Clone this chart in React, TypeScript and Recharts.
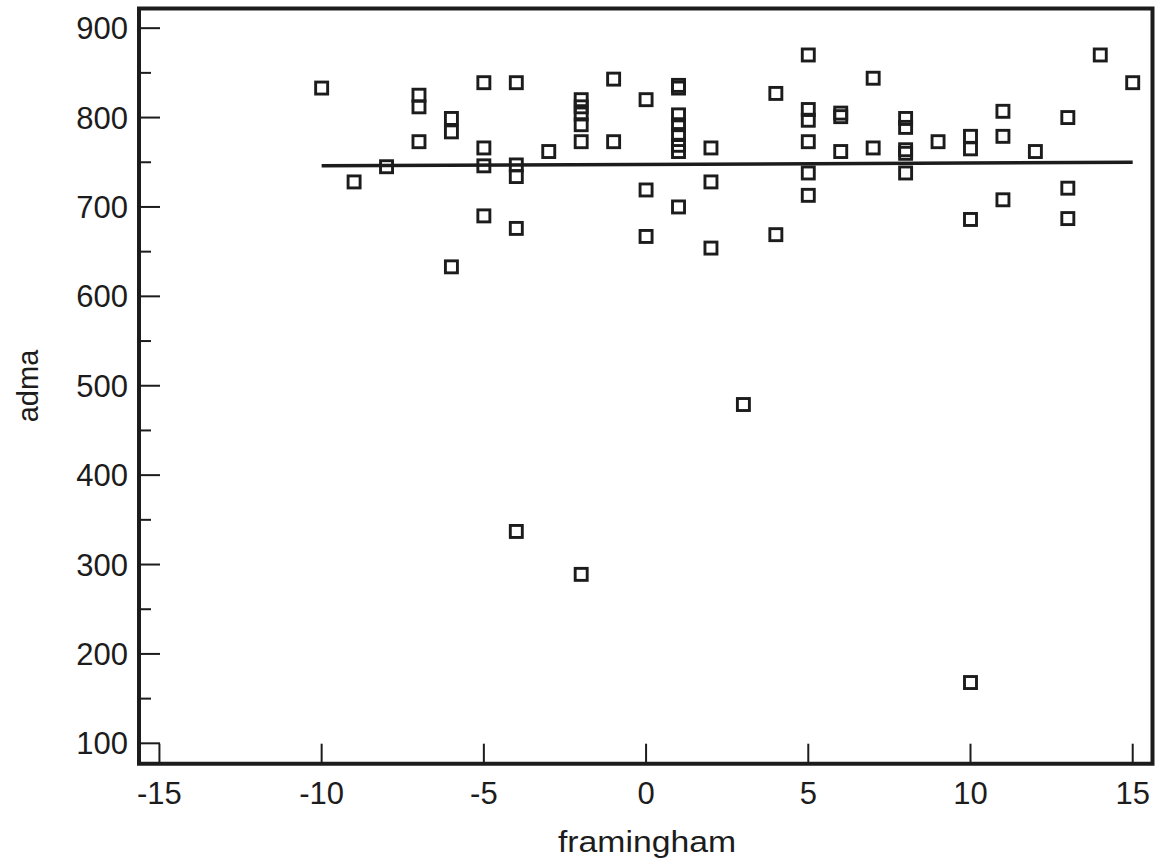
import React from 'react';
import { ScatterChart, Scatter, XAxis, YAxis, ReferenceArea } from 'recharts';

// framingham (x) values for each observation
const framingham = [
  -10,
  -9,
  -8,
  -7, -7, -7,
  -6, -6, -6,
  -5, -5, -5, -5,
  -4, -4, -4, -4, -4,
  -3,
  -2, -2, -2, -2, -2, -2,
  -1, -1,
  0, 0, 0,
  1, 1, 1, 1, 1, 1, 1, 1,
  2, 2, 2,
  3,
  4, 4,
  5, 5, 5, 5, 5, 5,
  6, 6, 6,
  7, 7,
  8, 8, 8, 8, 8,
  9,
  10, 10, 10, 10,
  11, 11, 11,
  12,
  13, 13, 13,
  14,
  15,
];

// adma (y) values, same order
const adma = [
  833,
  728,
  745,
  825, 812, 773,
  799, 784, 633,
  839, 766, 746, 690,
  839, 747, 734, 676, 337,
  762,
  820, 812, 804, 792, 773, 289,
  843, 773,
  820, 719, 667,
  836, 833, 803, 792, 781, 769, 762, 700,
  766, 728, 654,
  479,
  827, 669,
  870, 809, 797, 773, 738, 713,
  805, 801, 762,
  844, 766,
  799, 789, 764, 760, 738,
  773,
  779, 765, 686, 168,
  807, 779, 708,
  762,
  800, 721, 687,
  870,
  839,
];

// fitted regression line
const fitX = [-10, 15];
const fitY = [746, 750];

const xTicks = [-15, -10, -5, 0, 5, 10, 15];
const yTicks = [100, 150, 200, 250, 300, 350, 400, 450, 500, 550, 600, 650, 700, 750, 800, 850, 900];

const X_DOMAIN: [number, number] = [-15.63, 15.61];
const Y_DOMAIN: [number, number] = [77.2, 922];

const points = framingham.map((x, i) => ({ x, y: adma[i] }));
const fitLine = fitX.map((x, i) => ({ x, y: fitY[i] }));

const INK = '#1c1c1c';
const FONT = '"Liberation Sans", Arial, sans-serif';

const SquareShape = (props: any) => {
  const { cx, cy } = props;
  if (cx == null || cy == null) return <g />;
  return (
    <rect x={cx - 6} y={cy - 6} width={12} height={12} fill="none" stroke={INK} strokeWidth={2.9} />
  );
};

const NoShape = () => <g />;

const XTick = (props: any) => {
  const { x, y, payload } = props;
  return (
    <g>
      <line x1={x} x2={x} y1={y} y2={y - 20} stroke={INK} strokeWidth={2} />
      <text x={x} y={y + 40} textAnchor="middle" fontSize={31} fontFamily={FONT} fill={INK}>
        {payload.value}
      </text>
    </g>
  );
};

const YTick = (props: any) => {
  const { x, y, payload } = props;
  const major = payload.value % 100 === 0;
  return (
    <g>
      <line x1={x} x2={x + (major ? 21 : 12)} y1={y} y2={y} stroke={INK} strokeWidth={2} />
      {major && (
        <text x={x - 11} y={y + 11} textAnchor="end" fontSize={31} fontFamily={FONT} fill={INK}>
          {payload.value}
        </text>
      )}
    </g>
  );
};

const XTitle = () => (
  <text
    x={647}
    y={852}
    textAnchor="middle"
    fontSize={30}
    fontFamily={FONT}
    fill={INK}
    textLength={178}
    lengthAdjust="spacingAndGlyphs"
  >
    framingham
  </text>
);

const YTitle = () => (
  <text
    x={30}
    y={386}
    textAnchor="middle"
    fontSize={29}
    fontFamily={FONT}
    fill={INK}
    transform="rotate(-90 30 386)"
    dominantBaseline="middle"
  >
    adma
  </text>
);

export default function App() {
  return (
    <div style={{ position: 'absolute', left: 0, top: 0, background: '#fff' }}>
      <ScatterChart
        width={1167}
        height={864}
        margin={{ top: 8.5, right: 14.5, left: 0, bottom: 0 }}
      >
        <XAxis
          type="number"
          dataKey="x"
          domain={X_DOMAIN}
          ticks={xTicks}
          allowDataOverflow
          axisLine={false}
          tickLine={false}
          tickSize={0}
          tickMargin={0}
          tick={<XTick />}
          height={100.3}
          interval={0}
          label={<XTitle />}
        />
        <YAxis
          type="number"
          dataKey="y"
          domain={Y_DOMAIN}
          ticks={yTicks}
          allowDataOverflow
          axisLine={false}
          tickLine={false}
          tickSize={0}
          tickMargin={0}
          tick={<YTick />}
          width={139}
          interval={0}
          label={<YTitle />}
        />
        <ReferenceArea
          x1={X_DOMAIN[0]}
          x2={X_DOMAIN[1]}
          y1={Y_DOMAIN[0]}
          y2={Y_DOMAIN[1]}
          fill="none"
          fillOpacity={0}
          stroke={INK}
          strokeWidth={4}
          ifOverflow="extendDomain"
        />
        <Scatter
          data={fitLine}
          line={{ stroke: INK, strokeWidth: 3.5 }}
          lineType="joint"
          shape={<NoShape />}
          isAnimationActive={false}
        />
        <Scatter data={points} shape={<SquareShape />} isAnimationActive={false} />
      </ScatterChart>
    </div>
  );
}
